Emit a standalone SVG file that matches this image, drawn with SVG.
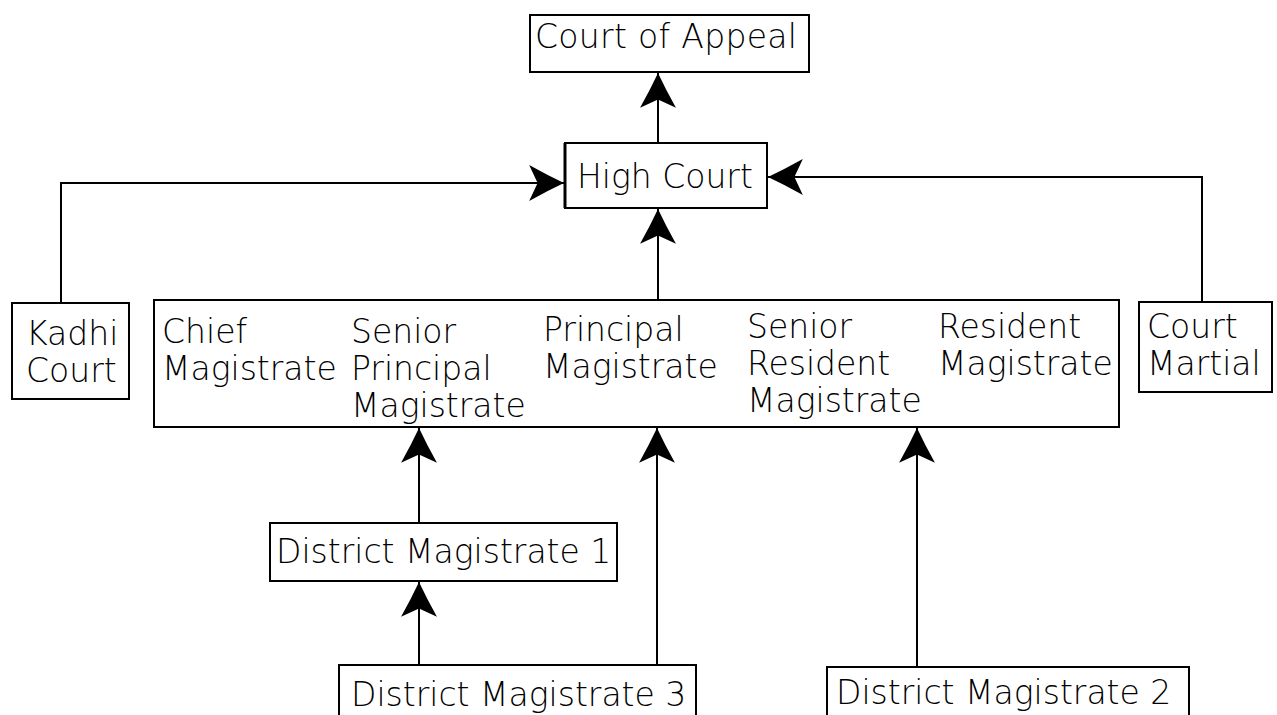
<svg xmlns="http://www.w3.org/2000/svg" width="1277" height="715" viewBox="0 0 1277 715">
<style>
  .box{fill:#fff;stroke:#000;stroke-width:2}
  .lbl{font-family:"DejaVu Sans",sans-serif;font-size:33px;font-weight:200;fill:#000}
  .con{fill:none;stroke:#000;stroke-width:2}
</style>
<defs>
  <marker id="ah" markerUnits="userSpaceOnUse" markerWidth="36" markerHeight="38" viewBox="0 0 34 36" refX="33" refY="18" orient="auto">
    <path d="M33,18 Q17,10.5 0,1 L8,18 L0,35 Q17,25.5 33,18 Z" fill="#000"/>
  </marker>
</defs>
<rect width="1277" height="715" fill="#fff"/>
<g id="connectors">
  <path class="con" d="M658,143 L658,73" marker-end="url(#ah)"/>
  <path class="con" d="M658,300 L658,209" marker-end="url(#ah)"/>
  <path class="con" d="M61,303 L61,183 L564,183" marker-end="url(#ah)"/>
  <path class="con" d="M1202,302 L1202,177 L768,177" marker-end="url(#ah)"/>
  <path class="con" d="M419,523 L419,428" marker-end="url(#ah)"/>
  <path class="con" d="M419,665 L419,582" marker-end="url(#ah)"/>
  <path class="con" d="M657,665 L657,428" marker-end="url(#ah)"/>
  <path class="con" d="M917,667 L917,428" marker-end="url(#ah)"/>
</g>
<g id="court-of-appeal">
  <rect class="box" x="530" y="15" width="279" height="57"/>
  <text class="lbl" x="535" y="48" textLength="262">Court of Appeal</text>
</g>
<g id="high-court">
  <rect class="box" x="565" y="143" width="202" height="65"/>
  <line x1="565" y1="143" x2="565" y2="208" stroke="#000" stroke-width="3"/>
  <text class="lbl" x="577" y="188">High Court</text>
</g>
<g id="kadhi-court">
  <rect class="box" x="12" y="303" width="117" height="96"/>
  <text class="lbl" x="26" y="345">Kadhi</text>
  <text class="lbl" x="26" y="382">Court</text>
</g>
<g id="magistrates">
  <rect class="box" x="154" y="300" width="965" height="127"/>
  <text class="lbl" x="162" y="343">Chief</text>
  <text class="lbl" x="162" y="380">Magistrate</text>
  <text class="lbl" x="351" y="343">Senior</text>
  <text class="lbl" x="351" y="380">Principal</text>
  <text class="lbl" x="351" y="417">Magistrate</text>
  <text class="lbl" x="543" y="341">Principal</text>
  <text class="lbl" x="543" y="378">Magistrate</text>
  <text class="lbl" x="747" y="338">Senior</text>
  <text class="lbl" x="747" y="375">Resident</text>
  <text class="lbl" x="747" y="412">Magistrate</text>
  <text class="lbl" x="938" y="338">Resident</text>
  <text class="lbl" x="938" y="375">Magistrate</text>
</g>
<g id="court-martial">
  <rect class="box" x="1139" y="302" width="133" height="90"/>
  <text class="lbl" x="1147" y="338">Court</text>
  <text class="lbl" x="1147" y="375">Martial</text>
</g>
<g id="district-magistrate-1">
  <rect class="box" x="270" y="523" width="347" height="58"/>
  <text class="lbl" x="276" y="563">District Magistrate 1</text>
</g>
<g id="district-magistrate-3">
  <rect class="box" x="339" y="665" width="357" height="60"/>
  <text class="lbl" x="351" y="706">District Magistrate 3</text>
</g>
<g id="district-magistrate-2">
  <rect class="box" x="827" y="667" width="362" height="58"/>
  <text class="lbl" x="836" y="704">District Magistrate 2</text>
</g>
</svg>
